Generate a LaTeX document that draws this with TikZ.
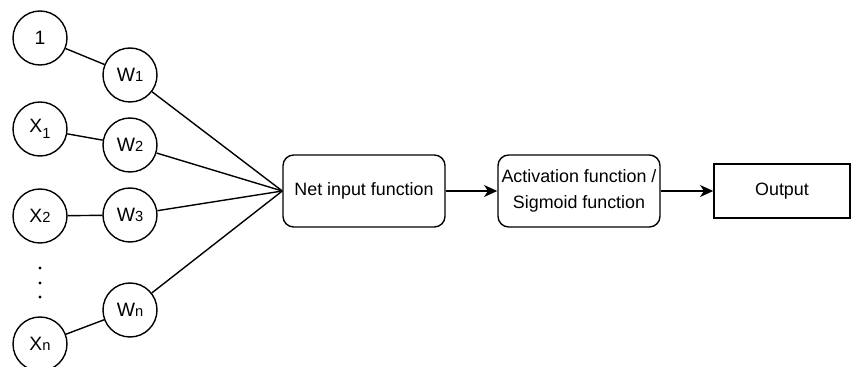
\documentclass[tikz,border=0pt]{standalone}
\usepackage{fontspec}
\setmainfont{Liberation Sans}
\usetikzlibrary{arrows.meta}
% smaller index digits/letters set on the baseline
\newcommand\idx[1]{{\fontsize{11}{11}\selectfont #1}}
\tikzset{
  unit/.style={circle, draw, line width=1.05pt, minimum size=40.5pt, inner sep=0pt,
               font=\fontsize{14.5}{16}\selectfont},
  wire/.style={line width=1.05pt},
  flow/.style={line width=1.05pt, -{Stealth[length=10pt, width=9pt, inset=3pt]}},
  procbox/.style={draw, line width=1.05pt, rounded corners=8pt, minimum width=121.5pt,
                  minimum height=54pt, inner sep=0pt, align=center,
                  font=\fontsize{13.4}{19.5}\selectfont},
  outbox/.style={draw, line width=1.05pt, minimum width=102pt, minimum height=40.5pt,
                 inner sep=0pt, font=\fontsize{13.4}{16}\selectfont}
}
\begin{document}
\begin{tikzpicture}[x=0.75pt, y=-0.75pt]
  \useasboundingbox (0,0) rectangle (851,367);

  % input units
  \node[unit] (one) at (40,38)  {1};
  \node[unit] (x1)  at (40,129) {X\raisebox{-4pt}{\idx{1}}};
  \node[unit] (x2)  at (40,216) {X\idx{2}};
  \node[unit] (xn)  at (40,344) {X\idx{n}};

  % weights
  \node[unit] (w1) at (130,75)  {W\idx{1}};
  \node[unit] (w2) at (130,145) {W\idx{2}};
  \node[unit] (w3) at (130,215) {W\idx{3}};
  \node[unit] (wn) at (130,310) {W\idx{n}};

  % vertical ellipsis between X2 and Xn
  \fill (40,268) circle (1.7);
  \fill (40,283) circle (1.7);
  \fill (40,297) circle (1.7);

  % processing chain
  \node[procbox] (net) at (364,191) {Net input function};
  \node[procbox] (act) at (579,191) {Activation function /\\Sigmoid function};
  \node[outbox]  (out) at (782,191) {Output};

  % inputs to weights
  \draw[wire] (one) -- (w1);
  \draw[wire] (x1) -- (w2);
  \draw[wire] (x2) -- (w3);
  \draw[wire] (xn) -- (wn);

  % weights into the net input
  \draw[wire] (w1) -- (net.west);
  \draw[wire] (w2) -- (net.west);
  \draw[wire] (w3) -- (net.west);
  \draw[wire] (wn) -- (net.west);

  \draw[flow] (net) -- (act);
  \draw[flow] (act) -- (out);
\end{tikzpicture}
\end{document}
